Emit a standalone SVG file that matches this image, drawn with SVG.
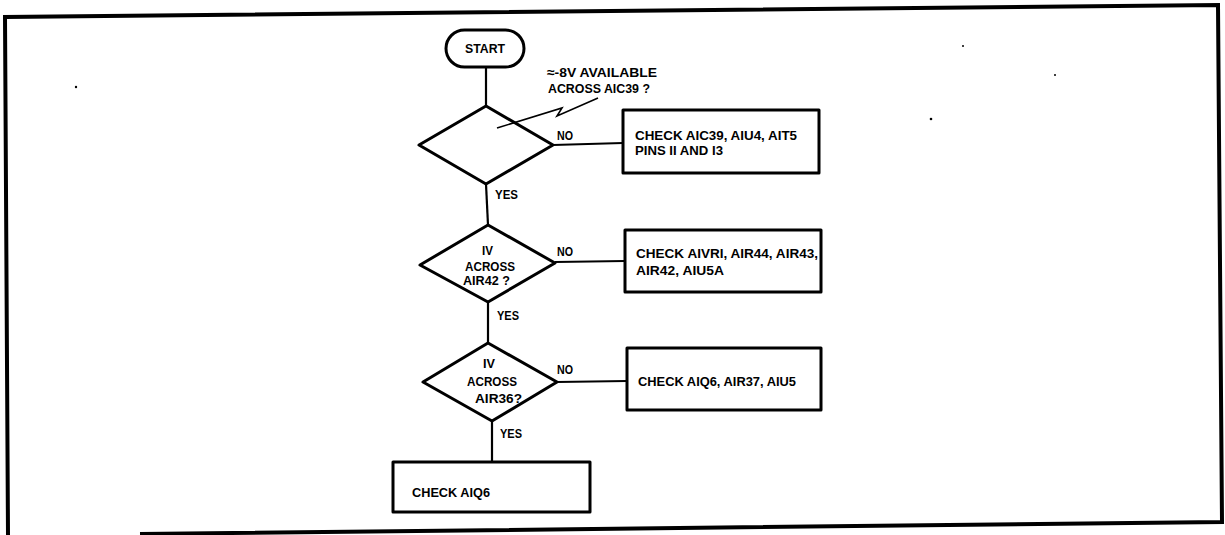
<svg xmlns="http://www.w3.org/2000/svg" width="1225" height="535" viewBox="0 0 1225 535">
<style>
.t{font-family:"Liberation Sans",Arial,sans-serif;font-weight:bold;font-size:13.5px;fill:#000}
.sh{fill:#fff;stroke:#000;stroke-width:3;stroke-linejoin:round}
.cn{fill:none;stroke:#000;stroke-width:2.2}
</style>
<rect width="1225" height="535" fill="#fff"/>
<path d="M8,536 L5,17 L1218,5 L1222,522 L140,534" fill="none" stroke="#000" stroke-width="4"/>
<g id="connectors">
<line class="cn" x1="486" y1="67" x2="486" y2="106"/>
<line class="cn" x1="553" y1="145" x2="623" y2="143"/>
<line class="cn" x1="486" y1="184" x2="488" y2="225"/>
<line class="cn" x1="555" y1="262" x2="625" y2="261"/>
<line class="cn" x1="488" y1="302" x2="488" y2="343"/>
<line class="cn" x1="557" y1="382" x2="627" y2="381"/>
<line class="cn" x1="492" y1="421" x2="492" y2="462"/>
<text class="t" x="557" y="140" textLength="16" lengthAdjust="spacingAndGlyphs">NO</text>
<text class="t" x="495" y="199" textLength="23" lengthAdjust="spacingAndGlyphs">YES</text>
<text class="t" x="557" y="256" textLength="16" lengthAdjust="spacingAndGlyphs">NO</text>
<text class="t" x="497" y="320" textLength="22" lengthAdjust="spacingAndGlyphs">YES</text>
<text class="t" x="557" y="374" textLength="16" lengthAdjust="spacingAndGlyphs">NO</text>
<text class="t" x="500" y="438" textLength="22" lengthAdjust="spacingAndGlyphs">YES</text>
<text class="t" x="547" y="77" textLength="110" lengthAdjust="spacingAndGlyphs">≈-8V AVAILABLE</text>
<text class="t" x="548" y="93" textLength="102" lengthAdjust="spacingAndGlyphs">ACROSS AIC39 ?</text>
</g>
<g id="start">
<rect class="sh" x="446" y="30" width="78" height="37" rx="18.5"/>
<text class="t" x="465" y="53" textLength="40" lengthAdjust="spacingAndGlyphs">START</text>
</g>
<g id="decision1">
<polygon class="sh" points="486,106 553,145 486,184 419,145"/>
<polyline fill="none" stroke="#000" stroke-width="1.6" points="598,98 557,116 562,108 497,128"/>
</g>
<g id="box1">
<rect class="sh" x="623" y="110" width="196" height="63"/>
<text class="t" x="635" y="140" textLength="162" lengthAdjust="spacingAndGlyphs">CHECK AIC39, AIU4, AIT5</text>
<text class="t" x="635" y="155" textLength="88" lengthAdjust="spacingAndGlyphs">PINS II AND I3</text>
</g>
<g id="decision2">
<polygon class="sh" points="488,225 555,263 488,302 420,265"/>
<text class="t" x="482" y="255" textLength="11" lengthAdjust="spacingAndGlyphs">IV</text>
<text class="t" x="465" y="271" textLength="50" lengthAdjust="spacingAndGlyphs">ACROSS</text>
<text class="t" x="463" y="285" textLength="47" lengthAdjust="spacingAndGlyphs">AIR42 ?</text>
</g>
<g id="box2">
<rect class="sh" x="625" y="230" width="196" height="62"/>
<text class="t" x="636" y="258" textLength="182" lengthAdjust="spacingAndGlyphs">CHECK AIVRI, AIR44, AIR43,</text>
<text class="t" x="636" y="275" textLength="88" lengthAdjust="spacingAndGlyphs">AIR42, AIU5A</text>
</g>
<g id="decision3">
<polygon class="sh" points="488,343 557,382 492,421 423,382"/>
<text class="t" x="483" y="368" textLength="12" lengthAdjust="spacingAndGlyphs">IV</text>
<text class="t" x="467" y="386" textLength="50" lengthAdjust="spacingAndGlyphs">ACROSS</text>
<text class="t" x="475" y="403" textLength="47" lengthAdjust="spacingAndGlyphs">AIR36?</text>
</g>
<g id="box3">
<rect class="sh" x="627" y="348" width="194" height="62"/>
<text class="t" x="638" y="386" textLength="158" lengthAdjust="spacingAndGlyphs">CHECK AIQ6, AIR37, AIU5</text>
</g>
<g id="box4">
<rect class="sh" x="393" y="462" width="197" height="50"/>
<text class="t" x="412" y="497" textLength="78" lengthAdjust="spacingAndGlyphs">CHECK AIQ6</text>
</g>
<g id="specks" fill="#000">
<circle cx="76" cy="87" r="1.2"/>
<circle cx="963" cy="46" r="1"/>
<circle cx="1055" cy="75" r="1"/>
<circle cx="931" cy="119" r="1.3"/>
</g>
</svg>
